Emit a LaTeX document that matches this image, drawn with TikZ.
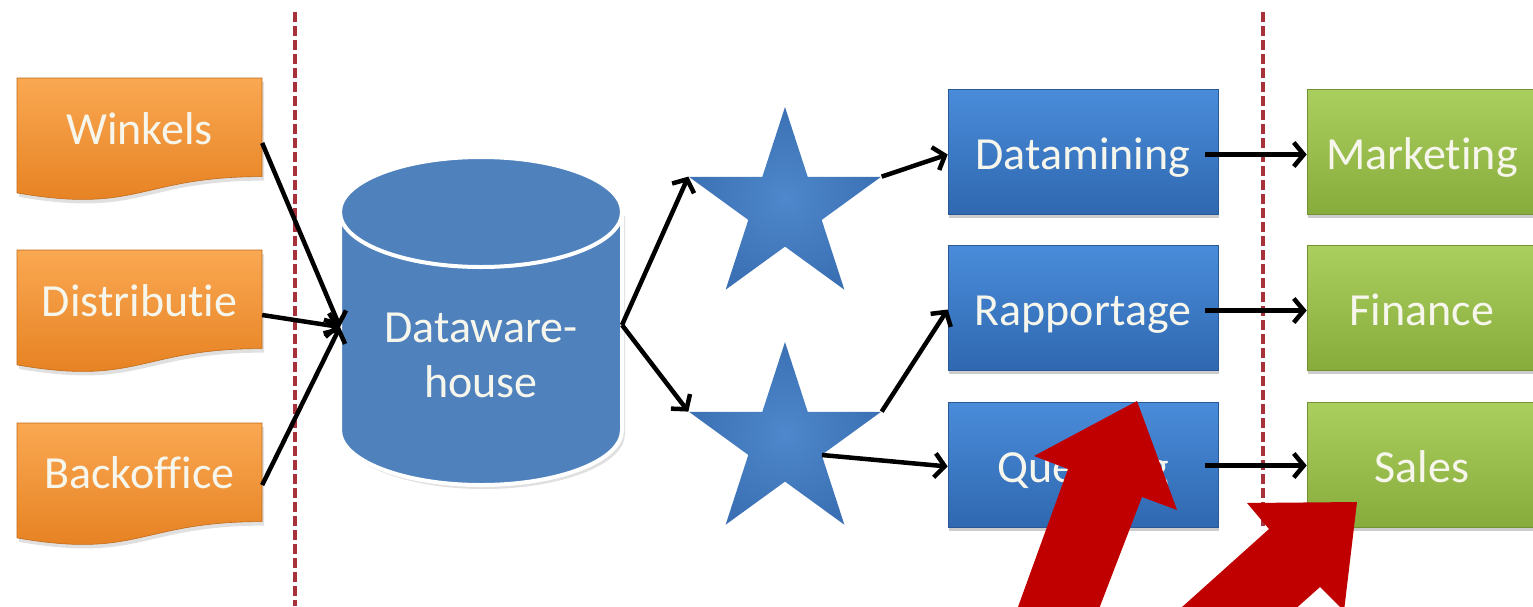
\documentclass[tikz,border=0pt]{standalone}
\usepackage{fontspec}
\setmainfont{Carlito}[Ligatures={NoCommon,NoContextual}]
\usetikzlibrary{arrows.meta,shapes.geometric,shadows}
\definecolor{txtc}{HTML}{F6F6EC}
\definecolor{orT}{HTML}{FAA852}
\definecolor{orB}{HTML}{E47E1E}
\definecolor{blT}{HTML}{4A8CDA}
\definecolor{blB}{HTML}{2F68B0}
\definecolor{grT}{HTML}{ABCF5E}
\definecolor{grB}{HTML}{88AC3C}
\definecolor{cylc}{HTML}{4F81BD}
\definecolor{starI}{HTML}{4F88CC}
\definecolor{starO}{HTML}{3B70B4}
\definecolor{divc}{HTML}{A8323C}
\definecolor{redc}{HTML}{C00000}
\newcommand\docshape[1]{%
  \fill[black,opacity=0.12] (19,#1+4) -- (264,#1+4) -- (264,#1+102.6)
    .. controls (141.5,#1+102.6) and (141.5,#1+140.2) .. (19,#1+118.9) -- cycle;
  \shade[top color=orT,bottom color=orB,draw=orB!85!black,line width=0.6pt]
    (17,#1) -- (262,#1) -- (262,#1+98.6)
    .. controls (139.5,#1+98.6) and (139.5,#1+136.2) .. (17,#1+114.9) -- cycle;}
\begin{document}
\begin{tikzpicture}[x=1pt,y=-1pt,
  lbl/.style={text=txtc,font=\fontsize{46}{55}\selectfont,inner sep=0pt,
    text height=30pt,text depth=0pt},
  docnode/.style={lbl,minimum width=245pt,minimum height=60pt},
  boxshadow/.style={drop shadow={shadow xshift=1pt,shadow yshift=-4pt,opacity=0.2,fill=black}},
  bluebox/.style={lbl,text height=36pt,minimum width=270pt,minimum height=125pt,
    top color=blT,bottom color=blB,draw=blB!85!black,line width=0.6pt,boxshadow},
  greenbox/.style={lbl,text height=36pt,minimum width=230pt,minimum height=125pt,
    top color=grT,bottom color=grB,draw=grB!85!black,line width=0.6pt,boxshadow},
  starnode/.style={star,star points=5,star point ratio=2.618,minimum size=202pt,
    inner sep=0pt,inner color=starI,outer color=starO},
  conn/.style={line width=4.5pt,-{Straight Barb[length=10pt,width=24pt]}},
  divider/.style={draw=divc,line width=4pt,dash pattern=on 10pt off 4pt},
  redarrow/.style={fill=redc}]
\useasboundingbox (0,0) rectangle (1533,606);
\clip (0,0) rectangle (1533,606);
\fill[white] (0,0) rectangle (1533,606);

% dividers
\draw[divider] (295,12) -- (295,606);
\draw[divider] (1263,12) -- (1263,530);

% source documents
\docshape{78}
\docshape{250}
\docshape{423}
\node[docnode] (win) at (139.5,129) {Winkels};
\node[docnode] (dis) at (139.5,301) {Distributie};
\node[docnode] (bo)  at (139.5,473) {Backoffice};

% data warehouse cylinder
\fill[black,opacity=0.12] (343,216) -- (343,434)
  .. controls (343,464.4) and (406.1,489) .. (484,489)
  .. controls (561.9,489) and (625,464.4) .. (625,434) -- (625,216) -- cycle;
\fill[cylc,draw=white,line width=4pt] (340,212) -- (340,430)
  .. controls (340,460.4) and (403.1,485) .. (481,485)
  .. controls (558.9,485) and (622,460.4) .. (622,430) -- (622,212) -- cycle;
\fill[cylc,draw=white,line width=4pt] (481,212) ellipse [x radius=141, y radius=55];
\node[lbl,align=center,minimum width=282pt] (dwh) at (481,382) {Dataware-\\house};

% stars
\node[starnode] (s1) at (785,208) {};
\node[starnode] (s2) at (785,443) {};

% tools
\node[bluebox] (dm) at (1083,151.5) {Datamining};
\node[bluebox] (rp) at (1083,307.5) {Rapportage};
\node[bluebox] (qu) at (1083,464.5) {Querying};

% departments
\node[greenbox] (mk) at (1422,151.5) {Marketing};
\node[greenbox] (fi) at (1422,307.5) {Finance};
\node[greenbox] (sa) at (1422,464.5) {Sales};

% connectors
\coordinate (dwin) at (340,327);
\coordinate (dwout) at (622,325);
\draw[conn] ([yshift=-14pt]win.east) -- (dwin);
\draw[conn] ([yshift=-14pt]dis.east) -- (dwin);
\draw[conn] ([yshift=-12pt]bo.east) -- (dwin);
\draw[conn] (dwout) -- (s1.outer point 2);
\draw[conn] (dwout) -- (s2.outer point 2);
\draw[conn] (s1.outer point 5) -- ([yshift=-3pt]dm.west);
\draw[conn] (s2.outer point 5) -- ([yshift=-2pt]rp.west);
\draw[conn] (s2.inner point 4) -- ([yshift=-2pt]qu.west);
\draw[conn] ([xshift=-13pt,yshift=-3pt]dm.east) -- ([yshift=-3pt]mk.west);
\draw[conn] ([xshift=-13pt,yshift=-3pt]rp.east) -- ([yshift=-3pt]fi.west);
\draw[conn] ([xshift=-13pt,yshift=-1pt]qu.east) -- ([yshift=-1pt]sa.west);

% big red arrows
\fill[redarrow] (1137,401) -- (1177,510) -- (1142,497) -- (1087,640)
  -- (1006,640) -- (1068,469) -- (1034,456) -- cycle;
\fill[redarrow] (1357,502) -- (1344,611) -- (1320,587) -- (1238,660)
  -- (1123,660) -- (1269,529) -- (1247,503) -- cycle;
\end{tikzpicture}
\end{document}
